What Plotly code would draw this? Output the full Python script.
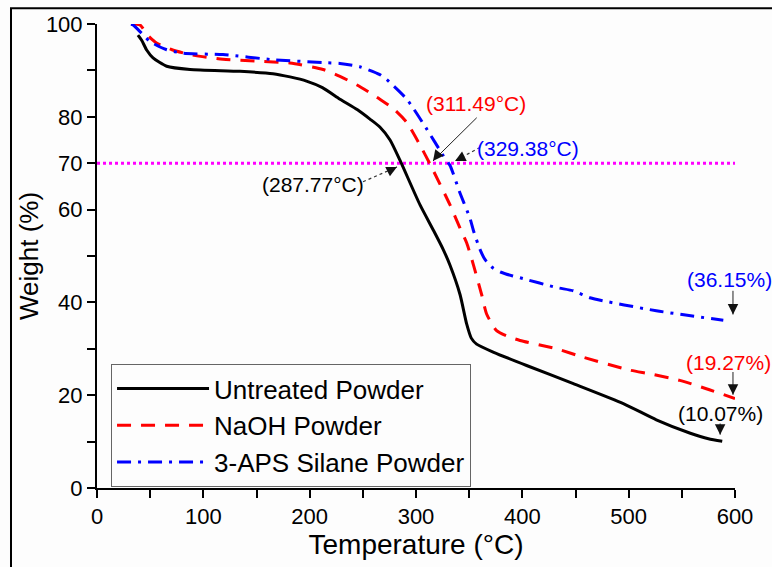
import plotly.graph_objects as go

# ---------------- data ----------------
untreated_T = [38.5, 42, 46.7, 52.7, 65.5, 87.5, 134.5, 165.5, 181.5, 197, 212, 228.5, 245, 256.7,
               266, 275.6, 285, 303.8, 316.5, 325.4, 332, 341.4, 347.7, 352, 357, 372.5, 404,
               448, 495, 526, 558, 575, 588]
untreated_W = [97.6, 96.5, 94.4, 92.7, 90.9, 90.2, 89.8, 89.3, 88.6, 87.7, 86.3, 83.8, 81.5, 79.5,
               77.8, 75.0, 70.6, 61.0, 55.5, 51.5, 48.0, 41.7, 35.3, 32.3, 31.0, 29.3, 26.4,
               22.5, 18.2, 14.7, 11.8, 10.6, 10.07]

naoh_T = [32, 40.4, 48, 56, 70, 87.5, 118.5, 150, 181.5, 212.6, 228.5, 245, 266, 280, 291.3, 304,
          313, 332, 341.4, 347.7, 354, 361.7, 366.4, 375.8, 385, 397.8, 432.3, 457, 501, 520,
          548, 573, 600]
naoh_W = [100, 99.8, 97.5, 95.9, 94.5, 93.4, 92.4, 92.0, 91.6, 90.2, 88.7, 86.8, 83.8, 81.5, 78.8,
          73.8, 69.9, 61.0, 56.0, 52.8, 48.1, 41.7, 37.5, 33.9, 32.8, 31.8, 30.0, 28.2, 25.4,
          24.6, 23.2, 21.4, 19.27]

silane_T = [32, 34, 42, 50, 65, 81, 118.5, 166, 212.6, 228.5, 247, 266, 272.5, 291.3, 310, 325.7,
            332, 341, 350.8, 354, 360, 365, 372.5, 380, 391, 397.8, 432.3, 448, 463.6, 526, 589]
silane_W = [100, 99.8, 98.0, 96.2, 94.5, 93.7, 93.4, 92.3, 91.7, 91.5, 90.8, 89.1, 88.0, 83.8, 77.4,
            71.6, 69.5, 63.8, 58.1, 55.5, 51.5, 49.2, 47.4, 46.5, 45.7, 45.3, 43.2, 42.5, 41.0,
            38.2, 36.15]

ref_T = [0, 600]
ref_W = [70, 70]

series_names = ["Untreated Powder", "NaOH Powder", "3-APS Silane Powder"]

y_tickvals = [0, 10, 20, 30, 40, 50, 60, 70, 80, 90, 100]
y_ticktext = ["0", "", "20", "", "40", "", "60", "70", "80", "", "100"]
x_tickvals = [0, 50, 100, 150, 200, 250, 300, 350, 400, 450, 500, 550, 600]
x_ticktext = ["0", "", "100", "", "200", "", "300", "", "400", "", "500", "", "600"]

FONT = "Liberation Sans, Arial, sans-serif"

fig = go.Figure()
fig.add_trace(go.Scatter(x=ref_T, y=ref_W, mode="lines", showlegend=False,
                         line=dict(color="#ff00ff", width=3, dash="dot")))
fig.add_trace(go.Scatter(x=untreated_T, y=untreated_W, mode="lines", name=series_names[0],
                         line=dict(color="black", width=3, shape="spline", smoothing=0.6)))
fig.add_trace(go.Scatter(x=naoh_T, y=naoh_W, mode="lines", name=series_names[1],
                         line=dict(color="#ff0000", width=3, dash="14px,10px",
                                   shape="spline", smoothing=0.6)))
fig.add_trace(go.Scatter(x=silane_T, y=silane_W, mode="lines", name=series_names[2],
                         line=dict(color="#0000ff", width=3, dash="14px,7px,3px,7px",
                                   shape="spline", smoothing=0.6)))

# ---------------- annotations ----------------
ann = []
shapes = []

def label(x, y, text, color, size=21):
    ann.append(dict(x=x, y=y, xref="x", yref="y", text=text, showarrow=False,
                    font=dict(family=FONT, size=size, color=color)))

def head(x, y, ax, ay, color="#111"):
    ann.append(dict(x=x, y=y, xref="x", yref="y", text="", showarrow=True,
                    ax=ax, ay=ay, arrowhead=2, arrowsize=2.1, arrowwidth=1,
                    arrowcolor=color, standoff=0))

def dotted(x0, y0, x1, y1):
    shapes.append(dict(type="line", xref="x", yref="y", x0=x0, y0=y0, x1=x1, y1=y1,
                       line=dict(color="#333", width=1.2, dash="dot")))

def solid(x0, y0, x1, y1):
    shapes.append(dict(type="line", xref="x", yref="y", x0=x0, y0=y0, x1=x1, y1=y1,
                       line=dict(color="#222", width=1)))

# (287.77 C)
label(203.1, 65.4, "(287.77°C)", "black")
dotted(250.2, 66.0, 282.1, 69.2)
head(282.1, 69.2, -10, 5)
# (311.49 C)
label(356.4, 82.9, "(311.49°C)", "#ff0000")
solid(357.1, 79.8, 316.0, 70.5)
head(316.0, 70.5, 7, -9)
# (329.38 C)
label(405.3, 73.1, "(329.38°C)", "#0000ff")
dotted(360.2, 73.4, 336.7, 70.5)
head(336.7, 70.5, 10, -5)
# end values
label(594.5, 44.9, "(36.15%)", "#0000ff")
solid(598.1, 42.5, 598.1, 37.4)
head(598.1, 37.4, 0, -10)
label(594.3, 27.1, "(19.27%)", "#ff0000")
solid(598.1, 25.0, 598.1, 20.1)
head(598.1, 20.1, 0, -10)
label(586.8, 16.0, "(10.07%)", "black")
solid(586.0, 13.9, 586.0, 11.5)
head(586.0, 11.5, 0, -8)

# outer figure frame (top and left visible)
shapes.append(dict(type="rect", xref="paper", yref="paper",
                   x0=-0.1348, x1=1.2, y0=-0.3, y1=1.0342,
                   line=dict(color="black", width=2)))

fig.update_layout(
    width=772, height=567,
    margin=dict(l=97, r=37, t=24, b=75),
    paper_bgcolor="#fdfdfd", plot_bgcolor="#fdfdfd",
    font=dict(family=FONT, color="black", size=22),
    annotations=ann, shapes=shapes,
    legend=dict(x=0.022, y=0.267, xanchor="left", yanchor="top",
                bgcolor="rgba(0,0,0,0)", bordercolor="#666", borderwidth=1,
                font=dict(family=FONT, size=26, color="black"),
                tracegroupgap=0, itemwidth=92),
    xaxis=dict(range=[0, 600], tickvals=x_tickvals, ticktext=x_ticktext,
               showgrid=False, zeroline=False, showline=True, linecolor="black", linewidth=2,
               ticks="outside", ticklen=8, tickwidth=2, tickcolor="black",
               tickfont=dict(size=22),
               title=dict(text="Temperature (°C)", font=dict(size=28), standoff=6)),
    yaxis=dict(range=[0, 100], tickvals=y_tickvals, ticktext=y_ticktext,
               showgrid=False, zeroline=False, showline=True, linecolor="black", linewidth=2,
               ticks="outside", ticklen=8, tickwidth=2, tickcolor="black",
               tickfont=dict(size=22),
               title=dict(text="Weight (%)", font=dict(size=26), standoff=0)),
)

fig.write_html("out.html", post_script="document.body.style.margin='0px';",
               config={"displayModeBar": False})
